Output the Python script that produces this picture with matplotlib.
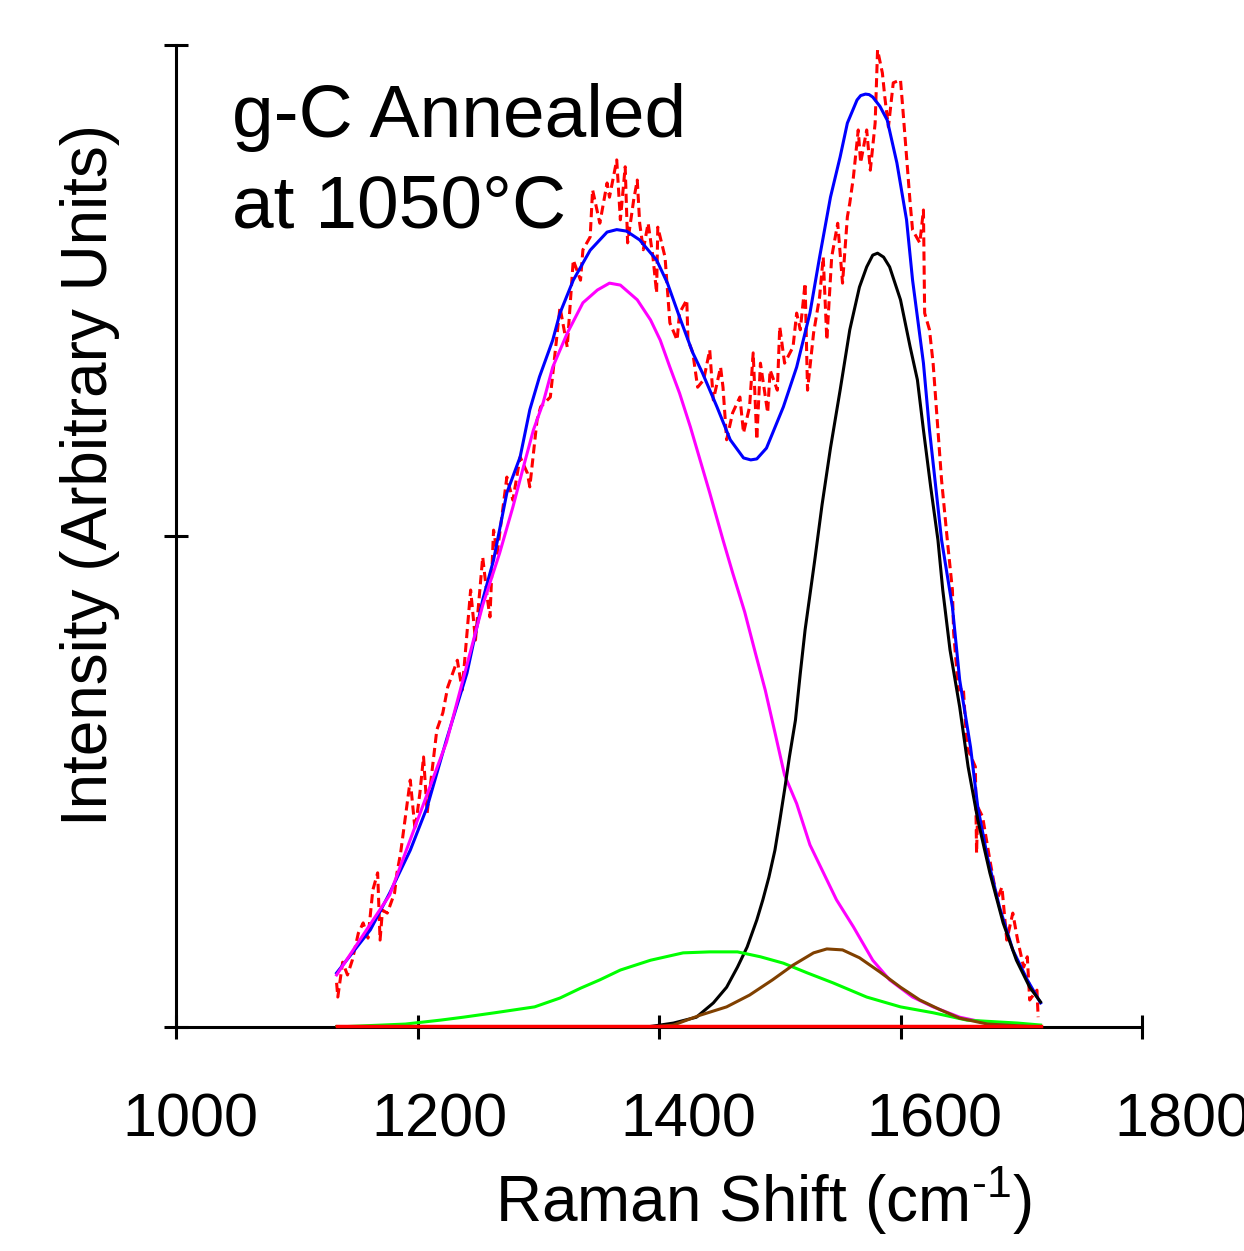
import matplotlib
matplotlib.use("Agg")
import matplotlib.pyplot as plt
from matplotlib.transforms import ScaledTranslation

plt.rcParams['font.family'] = ['Liberation Sans', 'DejaVu Sans']
plt.rcParams['mathtext.fontset'] = 'custom'
plt.rcParams['mathtext.rm'] = 'Liberation Sans'
plt.rcParams['mathtext.it'] = 'Liberation Sans'

# Raman spectrum of g-C annealed at 1050 C (measured, red dashed)
raw_x = [1133, 1134, 1138, 1142, 1146, 1151, 1155, 1159, 1163, 1167, 1169, 1171, 1175,
         1181, 1183, 1186, 1191, 1194, 1198, 1202, 1205, 1208, 1216, 1221, 1225, 1233,
         1237, 1241, 1244, 1248, 1254, 1258, 1260, 1263, 1266, 1274, 1279, 1285, 1291,
         1293, 1299, 1302, 1310, 1318, 1324, 1329, 1335, 1337, 1343, 1345, 1351, 1357,
         1359, 1365, 1368, 1372, 1374, 1379, 1382, 1384, 1387, 1391, 1395, 1398, 1399,
         1405, 1409, 1415, 1417, 1423, 1424, 1428, 1432, 1437, 1442, 1445, 1451, 1453,
         1456, 1461, 1467, 1470, 1475, 1478, 1481, 1484, 1490, 1492, 1498, 1500, 1504,
         1511, 1514, 1517, 1521, 1523, 1528, 1533, 1536, 1539, 1543, 1548, 1552, 1556,
         1558, 1561, 1565, 1567, 1572, 1575, 1579, 1581, 1585, 1587, 1590, 1594, 1600,
         1602, 1605, 1608, 1610, 1616, 1619, 1620, 1624, 1627, 1630, 1634, 1639, 1643,
         1644, 1648, 1652, 1655, 1662, 1663, 1664, 1668, 1674, 1680, 1684, 1688, 1693,
         1697, 1702, 1705, 1707, 1713, 1714]
raw_y = [0.090, 0.061, 0.132, 0.106, 0.136, 0.191, 0.212, 0.181, 0.279, 0.314, 0.177, 0.238, 0.232,
         0.273, 0.314, 0.354, 0.448, 0.503, 0.401, 0.477, 0.550, 0.436, 0.605, 0.640, 0.692, 0.747,
         0.686, 0.802, 0.890, 0.788, 0.957, 0.870, 0.835, 1.012, 0.965, 1.120, 1.073, 1.161, 1.128,
         1.100, 1.236, 1.263, 1.283, 1.466, 1.385, 1.562, 1.521, 1.583, 1.609, 1.705, 1.637, 1.719,
         1.690, 1.766, 1.644, 1.752, 1.597, 1.684, 1.725, 1.637, 1.583, 1.637, 1.568, 1.495, 1.629,
         1.568, 1.434, 1.399, 1.454, 1.481, 1.399, 1.373, 1.303, 1.318, 1.379, 1.277, 1.344, 1.303,
         1.196, 1.251, 1.283, 1.210, 1.263, 1.373, 1.196, 1.352, 1.251, 1.338, 1.297, 1.426, 1.352,
         1.385, 1.454, 1.420, 1.515, 1.297, 1.413, 1.487, 1.568, 1.399, 1.568, 1.637, 1.515, 1.650,
         1.678, 1.731, 1.827, 1.760, 1.827, 1.745, 1.841, 1.990, 1.943, 1.894, 1.833, 1.923, 1.929,
         1.868, 1.772, 1.678, 1.623, 1.597, 1.664, 1.454, 1.420, 1.352, 1.251, 1.114, 0.986, 0.890,
         0.803, 0.686, 0.692, 0.570, 0.530, 0.354, 0.448, 0.428, 0.340, 0.259, 0.285, 0.177, 0.232,
         0.177, 0.122, 0.143, 0.055, 0.075, 0.020]

# total fit (blue)
fit_x = [1133, 1161, 1177, 1194, 1208, 1224, 1241, 1254, 1263, 1274, 1285, 1293, 1301, 1312,
         1318, 1329, 1343, 1357, 1365, 1373, 1384, 1398, 1407, 1417, 1428, 1436, 1448, 1459,
         1470, 1476, 1481, 1489, 1503, 1514, 1525, 1533, 1542, 1550, 1556, 1564, 1567, 1571,
         1574, 1577, 1583, 1589, 1597, 1605, 1610, 1619, 1624, 1634, 1643, 1649, 1658, 1664,
         1672, 1682, 1693, 1705, 1716]
fit_y = [0.110, 0.198, 0.273, 0.360, 0.448, 0.585, 0.721, 0.870, 0.951, 1.088, 1.161, 1.257,
         1.324, 1.399, 1.454, 1.521, 1.582, 1.619, 1.624, 1.621, 1.603, 1.562, 1.515, 1.446,
         1.373, 1.332, 1.263, 1.196, 1.159, 1.155, 1.157, 1.179, 1.263, 1.344, 1.454, 1.568,
         1.690, 1.772, 1.841, 1.888, 1.897, 1.900, 1.899, 1.894, 1.875, 1.847, 1.760, 1.644,
         1.521, 1.352, 1.216, 0.992, 0.855, 0.707, 0.570, 0.448, 0.346, 0.244, 0.157, 0.096,
         0.049]

# D band (magenta)
d_x = [1133, 1177, 1224, 1254, 1268, 1279, 1287, 1296, 1304, 1312, 1324, 1337, 1349, 1359,
       1368, 1382, 1393, 1401, 1409, 1417, 1426, 1434, 1442, 1453, 1461, 1471, 1480, 1488,
       1496, 1504, 1514, 1525, 1536, 1547, 1561, 1577, 1591, 1610, 1627, 1649, 1672, 1697,
       1716]
d_y = [0.106, 0.269, 0.580, 0.859, 0.965, 1.059, 1.134, 1.216, 1.271, 1.344, 1.413, 1.475,
       1.501, 1.515, 1.511, 1.481, 1.440, 1.399, 1.344, 1.291, 1.222, 1.155, 1.088, 0.992,
       0.925, 0.845, 0.760, 0.686, 0.600, 0.513, 0.455, 0.371, 0.315, 0.259, 0.204, 0.136,
       0.096, 0.061, 0.041, 0.020, 0.008, 0.002, 0.0]

# G band (black)
g_x = [1133, 1390, 1412, 1431, 1445, 1456, 1465, 1473, 1481, 1486, 1491, 1496, 1500, 1504,
       1508, 1513, 1517, 1521, 1525, 1529, 1535, 1542, 1550, 1558, 1566, 1572, 1577, 1581,
       1586, 1591, 1600, 1608, 1614, 1619, 1625, 1631, 1635, 1641, 1649, 1656, 1664, 1674,
       1685, 1696, 1707, 1716]
g_y = [0.0, 0.0, 0.008, 0.020, 0.049, 0.081, 0.122, 0.163, 0.218, 0.259, 0.305, 0.360, 0.420,
       0.483, 0.550, 0.625, 0.720, 0.809, 0.880, 0.951, 1.063, 1.179, 1.297, 1.420, 1.507,
       1.548, 1.572, 1.576, 1.568, 1.548, 1.481, 1.385, 1.318, 1.216, 1.100, 0.992, 0.890,
       0.768, 0.652, 0.530, 0.422, 0.314, 0.212, 0.136, 0.081, 0.051]

# broad band (green)
b1_x = [1133, 1190, 1219, 1238, 1264, 1297, 1318, 1335, 1351, 1368, 1393, 1420, 1442, 1465,
        1484, 1503, 1523, 1544, 1572, 1600, 1627, 1655, 1697, 1716]
b1_y = [0.0, 0.006, 0.014, 0.020, 0.029, 0.041, 0.059, 0.079, 0.096, 0.116, 0.136, 0.151,
        0.153, 0.153, 0.143, 0.130, 0.110, 0.090, 0.061, 0.041, 0.029, 0.014, 0.008, 0.004]

# shoulder band (brown)
b2_x = [1133, 1395, 1412, 1434, 1456, 1475, 1494, 1511, 1528, 1539, 1552, 1566, 1583, 1600,
        1616, 1633, 1649, 1672, 1716]
b2_y = [0.0, 0.0, 0.004, 0.024, 0.041, 0.065, 0.096, 0.126, 0.151, 0.159, 0.157, 0.141,
        0.112, 0.081, 0.055, 0.035, 0.018, 0.006, 0.0]

base_x = [1133, 1716]
base_y = [0.002, 0.002]

x_ticks = [1000, 1200, 1400, 1600, 1800]

fig = plt.figure(figsize=(12.44, 12.51), dpi=100)
ax = fig.add_axes([176 / 1244, 224 / 1251, 966 / 1244, 982 / 1251])

ax.plot(raw_x, raw_y, color='red', lw=2.2, ls=(0, (3, 1.6)), clip_on=False, zorder=2)
ax.plot(fit_x, fit_y, color='#0000ff', lw=2.2, zorder=3)
ax.plot(d_x, d_y, color='#ff00ff', lw=2.2, zorder=4)
ax.plot(g_x, g_y, color='black', lw=2.2, zorder=5)
ax.plot(b1_x, b1_y, color='#00ff00', lw=2.2, zorder=5)
ax.plot(b2_x, b2_y, color='#804000', lw=2.2, zorder=6)
ax.plot(base_x, base_y, color='red', lw=2.5, zorder=7, clip_on=False)

ax.set_xlim(1000, 1800)
ax.set_ylim(0, 2)
ax.set_xticks(x_ticks)
ax.set_yticks([0, 1, 2])
ax.set_yticklabels([])
for s in ['top', 'right']:
    ax.spines[s].set_visible(False)
for s in ['left', 'bottom']:
    ax.spines[s].set_linewidth(2.2)
ax.tick_params(axis='both', direction='inout', length=17, width=2.2, labelsize=44)
ax.tick_params(axis='x', pad=39)

# the original labels drift slightly right of their ticks
shifts = [14, 22, 29, 34, 40]
for lbl, dx in zip(ax.get_xticklabels(), shifts):
    lbl.set_transform(lbl.get_transform() + ScaledTranslation(dx / 100, 0, fig.dpi_scale_trans))

fig.text(763 / 1244, 1 - 1222 / 1251, r'Raman Shift (cm$^{\text{-1}}$)', fontsize=46,
         ha='center', va='baseline')
fig.text(90 / 1244, 1 - 475 / 1251, 'Intensity (Arbitrary Units)', fontsize=46,
         rotation=90, ha='center', va='center')
fig.text(232 / 1244, 1 - 137 / 1251, 'g-C Annealed', fontsize=54, ha='left', va='baseline')
fig.text(232 / 1244, 1 - 228 / 1251, 'at 1050°C', fontsize=54, ha='left', va='baseline')

fig.savefig('out.png', dpi=100)
